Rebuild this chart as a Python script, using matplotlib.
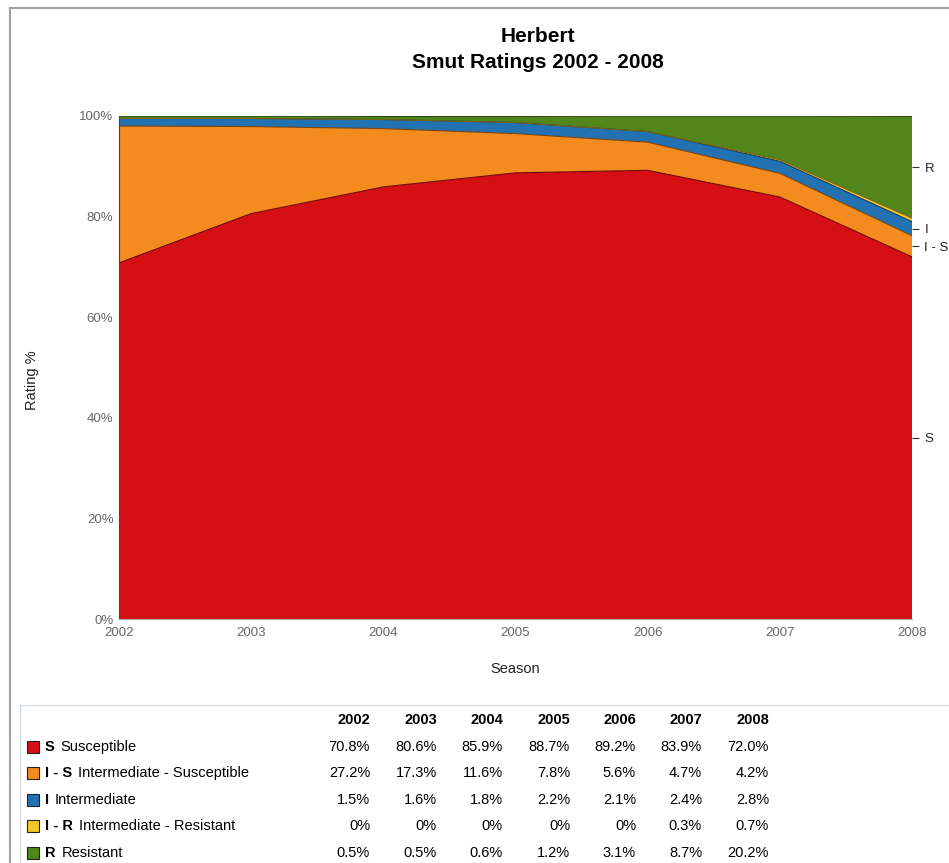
import numpy as np
import matplotlib.pyplot as plt
from matplotlib.patches import Rectangle
from matplotlib.lines import Line2D
from matplotlib.ticker import PercentFormatter

plt.rcParams['font.family'] = ['Liberation Sans', 'DejaVu Sans']

# data
years = [2002, 2003, 2004, 2005, 2006, 2007, 2008]
codes = ["S", "I - S", "I", "I - R", "R"]
names = ["Susceptible", "Intermediate - Susceptible", "Intermediate",
         "Intermediate - Resistant", "Resistant"]
S = [70.8, 80.6, 85.9, 88.7, 89.2, 83.9, 72.0]
IS = [27.2, 17.3, 11.6, 7.8, 5.6, 4.7, 4.2]
I = [1.5, 1.6, 1.8, 2.2, 2.1, 2.4, 2.8]
IR = [0, 0, 0, 0, 0, 0.3, 0.7]
R = [0.5, 0.5, 0.6, 1.2, 3.1, 8.7, 20.2]
series = [S, IS, I, IR, R]
colors = ["#D50F14", "#F48B1F", "#2272B3", "#F1C829", "#52851A"]
edges = ["#6e0a0a", "#7a4410", "#163b5c", "#7a6412", "#2b4610"]

W, H = 949, 863
fig = plt.figure(figsize=(W / 100, H / 100), dpi=100)


def fx(x):
    return x / W


def fy(y):
    return 1 - y / H


# outer frame
fig.add_artist(Line2D([fx(10), fx(10)], [fy(8), 0], color="#a0a0a0", lw=1.5))
fig.add_artist(Line2D([fx(10), 1], [fy(8), fy(8)], color="#a0a0a0", lw=1.5))
# table box
fig.add_artist(Line2D([fx(20), fx(20)], [fy(705), 0], color="#d6dde3", lw=1))
fig.add_artist(Line2D([fx(20), 1], [fy(705), fy(705)], color="#d6dde3", lw=1))

ax = fig.add_axes([fx(119), fy(619), fx(912) - fx(119), fy(116) - fy(619)])
ax.stackplot(years, series, colors=colors, edgecolor="none")
cum = np.cumsum(np.array(series), axis=0)
for c, e in zip(cum, edges):
    ax.plot(years, c, color=e, lw=0.8)
ax.set_xlim(2002, 2008)
ax.set_ylim(0, 100)
ax.set_xticks(years)
ax.set_yticks(range(0, 101, 20))
ax.yaxis.set_major_formatter(PercentFormatter(decimals=0))
ax.tick_params(axis="both", length=0, labelsize=9.5, labelcolor="#666666")
ax.tick_params(axis="y", pad=4)
ax.tick_params(axis="x", pad=6)
for s in ["top", "right"]:
    ax.spines[s].set_visible(False)
ax.spines["left"].set_color("#444444")
ax.spines["bottom"].set_color("#aaaaaa")
ax.spines["left"].set_linewidth(0.8)
ax.spines["bottom"].set_linewidth(0.8)

# right labels at layer midpoints for last year
ax2 = ax.twinx()
ax2.set_ylim(0, 100)
last = np.array([s[-1] for s in series])
mids = np.cumsum(last) - last / 2
keep = [0, 1, 2, 4]
ax2.set_yticks([mids[k] for k in keep])
ax2.set_yticklabels([codes[k] for k in keep])
ax2.tick_params(axis="y", length=5, width=0.8, color="#333333", labelsize=9.5,
                labelcolor="#222222", pad=4)
for s in ["top", "right", "left", "bottom"]:
    ax2.spines[s].set_visible(False)

ax.set_xlabel("Season", fontsize=10.5, color="#222222", labelpad=16)
fig.text(fx(32), fy(380), "Rating %", rotation=90, ha="center", va="center",
         fontsize=10.5, color="#222222")

fig.text(fx(538), fy(37), "Herbert", ha="center", va="center",
         fontsize=15, fontweight="bold")
fig.text(fx(538), fy(63), "Smut Ratings 2002 - 2008", ha="center",
         va="center", fontsize=15, fontweight="bold")

# data table
col_right = [370, 437, 503, 570, 636, 702, 769]
for yr, xr in zip(years, col_right):
    fig.text(fx(xr), fy(720), str(yr), ha="right", va="center",
             fontsize=10.5, fontweight="bold")
row_y = [747, 773, 800, 826, 853]
for i, (code, name, vals) in enumerate(zip(codes, names, series)):
    y = row_y[i]
    fig.add_artist(Rectangle((fx(27), fy(y + 6)), fx(12), fy(y - 6) - fy(y + 6),
                             facecolor=colors[i], edgecolor="#222222", lw=0.8))
    t = fig.text(fx(45), fy(y), code, ha="left", va="center",
                 fontsize=10.5, fontweight="bold")
    fig.canvas.draw()
    bb = t.get_window_extent()
    fig.text(bb.x1 / W + fx(6), fy(y), name, ha="left", va="center",
             fontsize=10.5)
    for v, xr in zip(vals, col_right):
        txt = "0%" if v == 0 else f"{v:.1f}%"
        fig.text(fx(xr), fy(y), txt, ha="right", va="center", fontsize=10.5)

fig.savefig("out.png", dpi=100)
